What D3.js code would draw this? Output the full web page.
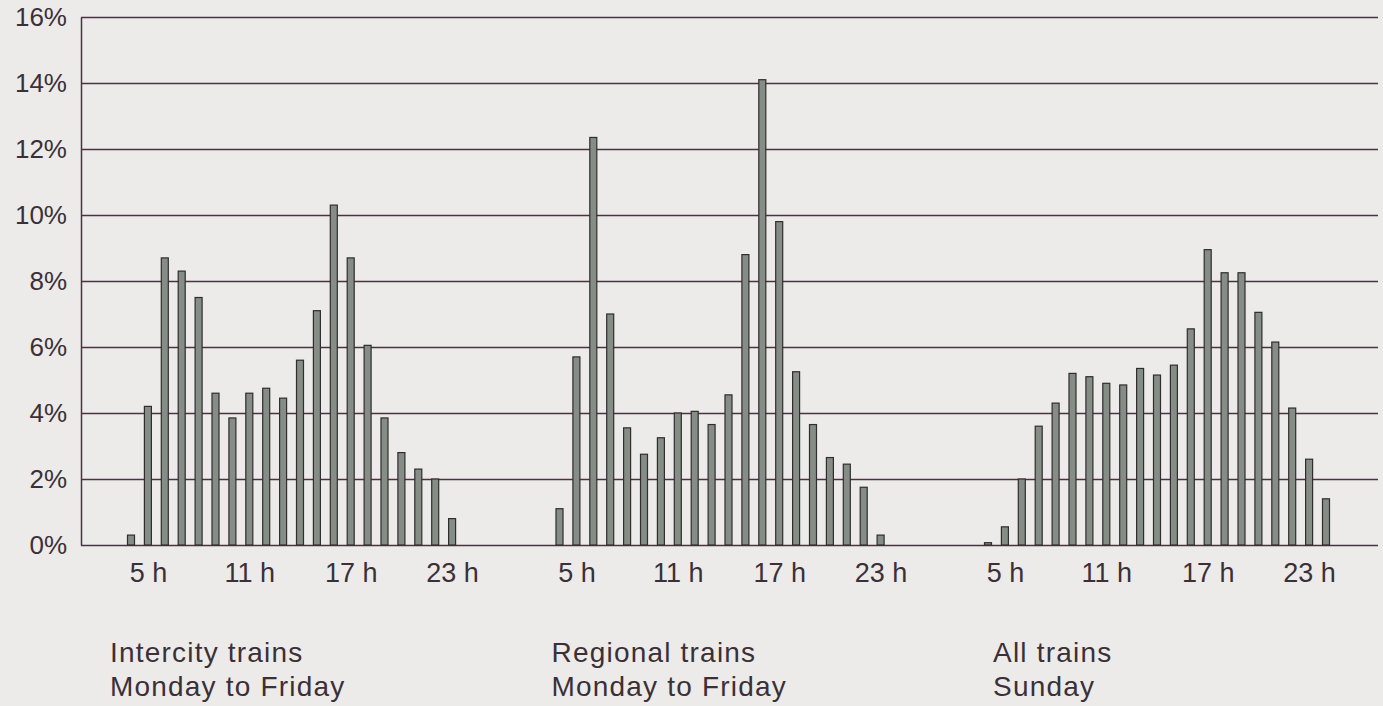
<!DOCTYPE html>
<html>
<head>
<meta charset="utf-8">
<script src="https://cdn.jsdelivr.net/npm/d3@7/dist/d3.min.js"></script>
<style>
  body { margin: 0; background: #ecebe9; }
  svg { display: block; }
  text { font-family: "Liberation Sans", Arial, sans-serif; fill: #3b3038; }
</style>
</head>
<body>
<svg id="chart" width="1383" height="706"></svg>
<script>

  // share of daily passengers per departure hour, in %
  const HOURS_WEEKDAY = d3.range(4, 24);   // 4h .. 23h
  const HOURS_SUNDAY  = d3.range(4, 25);   // 4h .. 24h

  const intercity_weekday = [0.3, 4.2, 8.7, 8.3, 7.5, 4.6, 3.85, 4.6, 4.75, 4.45,
                             5.6, 7.1, 10.3, 8.7, 6.05, 3.85, 2.8, 2.3, 2.0, 0.8];
  const regional_weekday  = [1.1, 5.7, 12.35, 7.0, 3.55, 2.75, 3.25, 4.0, 4.05, 3.65,
                             4.55, 8.8, 14.1, 9.8, 5.25, 3.65, 2.65, 2.45, 1.75, 0.3];
  const all_sunday        = [0.07, 0.55, 2.0, 3.6, 4.3, 5.2, 5.1, 4.9, 4.85, 5.35,
                             5.15, 5.45, 6.55, 8.95, 8.25, 8.25, 7.05, 6.15, 4.15, 2.6, 1.4];

  const group_titles   = ['Intercity trains', 'Regional trains', 'All trains'];
  const group_subtitle = ['Monday to Friday', 'Monday to Friday', 'Sunday'];

  const y_ticks    = [0, 2, 4, 6, 8, 10, 12, 14, 16];
  const hour_ticks = [5, 11, 17, 23];

  const groups = [
    { id: 'ic',  hours: HOURS_WEEKDAY, values: intercity_weekday },
    { id: 're',  hours: HOURS_WEEKDAY, values: regional_weekday },
    { id: 'sun', hours: HOURS_SUNDAY,  values: all_sunday }
  ];

  const AXIS_X = 81;
  const GRID_END = 1378;
  const BAR_W = 7;
  const HOUR_STEP = 16.9;
  const LINE_COLOR = '#4a3343';
  const TEXT_COLOR = '#3b3038';

  const svg = d3.select('#chart');

  const y = d3.scaleLinear().domain([0, 16]).range([545, 17]);
  const hour_x = d3.scaleLinear().domain([4, 24]).range([0, 20 * HOUR_STEP]);
  const group_x = d3.scalePoint().domain(groups.map(g => g.id)).range([131, 988]);
  const label_x = d3.scalePoint().domain(groups.map(g => g.id)).range([110, 993]);

  // gridlines + y labels
  const y_axis = svg.append('g')
    .attr('transform', 'translate(' + AXIS_X + ',0)')
    .call(d3.axisLeft(y)
      .tickValues(y_ticks)
      .tickSizeInner(-(GRID_END - AXIS_X))
      .tickSizeOuter(0)
      .tickPadding(14)
      .tickFormat(d => d + '%'));

  y_axis.select('.domain').attr('stroke', LINE_COLOR).attr('stroke-width', 1.5);
  y_axis.selectAll('.tick line').attr('stroke', LINE_COLOR).attr('stroke-width', 1.5);
  y_axis.selectAll('.tick text')
    .attr('font-size', 26)
    .attr('font-family', '"Liberation Sans", Arial, sans-serif')
    .attr('fill', TEXT_COLOR);

  // bars and hour labels per group
  for (let i = 0; i < groups.length; i++) {
    draw_group(groups[i], i);
  }

  function draw_group(group, i) {
    const origin = group_x(group.id);
    const $g = svg.append('g').attr('transform', 'translate(' + origin + ',0)');

    $g.selectAll('rect')
      .data(group.values)
      .enter()
      .append('rect')
      .attr('x', (d, k) => hour_x(group.hours[k]) - BAR_W / 2)
      .attr('y', d => y(d))
      .attr('width', BAR_W)
      .attr('height', d => y(0) - y(d))
      .attr('fill', '#868d86')
      .attr('stroke', '#2f2d2e')
      .attr('stroke-width', 1.2);

    const $ax = $g.append('g')
      .attr('transform', 'translate(0,' + y(0) + ')')
      .call(d3.axisBottom(hour_x)
        .tickValues(hour_ticks)
        .tickSize(0)
        .tickPadding(18)
        .tickFormat(d => d + ' h'));
    $ax.select('.domain').remove();
    $ax.selectAll('text')
      .attr('font-size', 27)
      .attr('font-family', '"Liberation Sans", Arial, sans-serif')
      .attr('fill', TEXT_COLOR);

    const lx = label_x(group.id);
    const $label = svg.append('text')
      .attr('y', 662)
      .attr('font-size', 28)
      .attr('letter-spacing', 1.2);
    $label.append('tspan').attr('x', lx).text(group_titles[i]);
    $label.append('tspan').attr('x', lx).attr('dy', 34).text(group_subtitle[i]);
  }

</script>
</body>
</html>
